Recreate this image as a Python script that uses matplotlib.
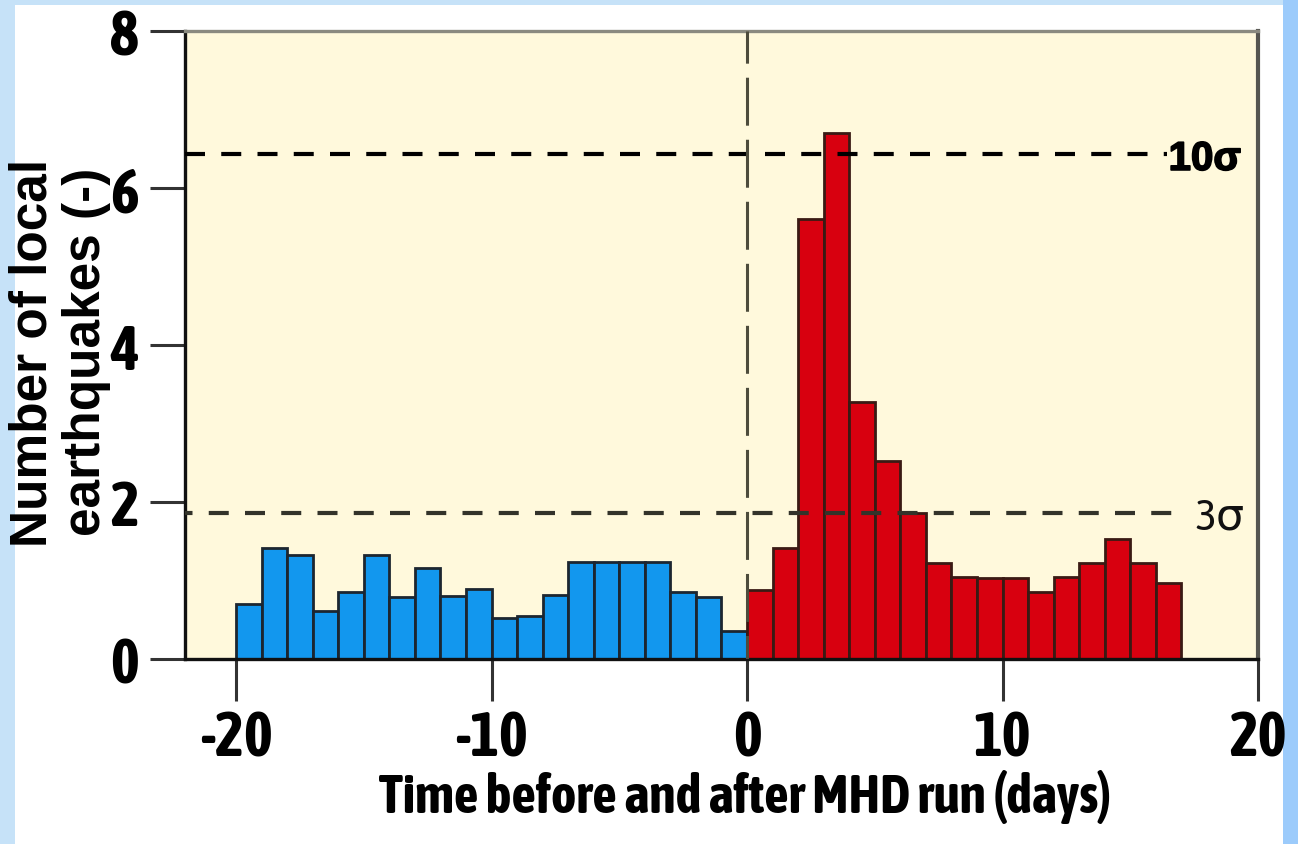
import matplotlib
matplotlib.use("Agg")
import matplotlib.pyplot as plt
from matplotlib import font_manager
import matplotlib.patheffects as pe
from matplotlib.patches import Rectangle

# ---- data ----
before_days = list(range(-20, 0))          # left edges of daily bins before the run
before_counts = [0.70, 1.41, 1.32, 0.61, 0.85, 1.32, 0.79, 1.16, 0.80, 0.89,
                 0.52, 0.55, 0.82, 1.23, 1.23, 1.23, 1.23, 0.85, 0.79, 0.36]
after_days = list(range(0, 17))            # left edges of daily bins after the run
after_counts = [0.88, 1.42, 5.60, 6.70, 3.28, 2.52, 1.86, 1.22, 1.05, 1.03,
                1.03, 0.85, 1.05, 1.22, 1.53, 1.22, 0.97]
sigma10 = 6.43
sigma3 = 1.86
x_ticks = [-20, -10, 0, 10, 20]
y_ticks = [0, 2, 4, 6, 8]

plt.rcParams["axes.unicode_minus"] = False

# pick a condensed family, preferably one with a bold face
cands = {}
for f in font_manager.fontManager.ttflist:
    if "Narrow" in f.name or "Condensed" in f.name:
        cands.setdefault(f.name, set()).add(f.weight)
def _isbold(w):
    if isinstance(w, int):
        return w >= 600
    return str(w).lower() in ("bold", "heavy", "black", "semibold", "demibold", "extra bold")
bold_fams = sorted(n for n, ws in cands.items() if any(_isbold(w) for w in ws))
if bold_fams:
    COND = [bold_fams[0], "DejaVu Sans"]
    BOLD_FX = []
elif cands:
    COND = [sorted(cands)[0], "DejaVu Sans"]
    BOLD_FX = [pe.withStroke(linewidth=1.6, foreground="black")]
else:
    COND = ["Liberation Sans", "DejaVu Sans"]
    BOLD_FX = []
WIDE = ["Liberation Sans", "DejaVu Sans"]

W, H = 1298, 845
fig = plt.figure(figsize=(W / 100, H / 100), dpi=100)
fig.patch.set_facecolor("#c6e2f8")
fig.patches.append(Rectangle((15 / W, 0), (1283 - 15) / W, (H - 6) / H,
                             transform=fig.transFigure, facecolor="white",
                             edgecolor="none", zorder=-10))
fig.patches.append(Rectangle((1283 / W, 0), 15 / W, 1,
                             transform=fig.transFigure, facecolor="#9ccbfb",
                             edgecolor="none", zorder=-10))

ax = fig.add_axes([185 / W, (H - 660) / H, (1258 - 185) / W, (660 - 32) / H])
ax.set_zorder(5)
ax.set_facecolor("#fff9dc")
ax.set_xlim(-22, 20)
ax.set_ylim(0, 8)

ax.bar(before_days, before_counts, width=1.0, align="edge", color="#1297ee",
       edgecolor="#1c2630", linewidth=2.0, zorder=2)
ax.bar(after_days, after_counts, width=1.0, align="edge", color="#d8000f",
       edgecolor="#3a1a14", linewidth=2.0, zorder=2)

ax.plot([-22, 16.45], [sigma10, sigma10], color="black", lw=3.0,
        linestyle=(0, (4.8, 3.9)), zorder=3)
ax.plot([-22, 17.2], [sigma3, sigma3], color="#33332a", lw=3.0,
        linestyle=(3, (4.8, 3.9)), zorder=3)
ax.axvline(0, color="#4d4c3c", lw=2.2, linestyle=(8, (15.7, 4.6)), zorder=3)

ax.text(16.5, sigma10 - 0.06, "10σ", fontsize=29, fontweight="bold", family=WIDE,
        ha="left", va="center", color="black", zorder=4,
        path_effects=[pe.withStroke(linewidth=1.2, foreground="black")])
ax.text(17.55, sigma3 - 0.05, "3σ", fontsize=32, family=COND,
        ha="left", va="center", color="#111111", zorder=4)

for s in ["left", "bottom"]:
    ax.spines[s].set_linewidth(2.4)
    ax.spines[s].set_color("#111111")
ax.spines["top"].set_linewidth(2.4)
ax.spines["top"].set_color("#8a8a80")
ax.spines["right"].set_linewidth(3)
ax.spines["right"].set_color("#555550")

ax.set_xticks(x_ticks)
ax.set_yticks(y_ticks)
ax.tick_params(axis="y", direction="out", length=25, width=2.2, color="#333333",
               pad=8, labelsize=44)
ax.tick_params(axis="x", direction="out", length=30, width=2.2, color="#333333",
               pad=6, labelsize=44)
for lab in ax.get_xticklabels() + ax.get_yticklabels():
    lab.set_family(COND)
    lab.set_fontweight("bold")
    lab.set_path_effects(BOLD_FX)

xl = ax.set_xlabel("Time before and after MHD run (days)", fontsize=39, family=COND,
                   fontweight="bold")
xl.set_path_effects(BOLD_FX)
ax.xaxis.set_label_coords((745 - 185) / (1258 - 185), -(797 - 660) / (660 - 32))
xl.set_va("center")
fig.text(33 / W, 1 - 353 / H, "Number of local", rotation=90, fontsize=37,
         family=WIDE, fontweight="bold", ha="center", va="center")
fig.text(87 / W, 1 - 352 / H, "earthquakes (-)", rotation=90, fontsize=37,
         family=WIDE, fontweight="bold", ha="center", va="center")

fig.savefig("out.png", dpi=100, facecolor=fig.get_facecolor())
